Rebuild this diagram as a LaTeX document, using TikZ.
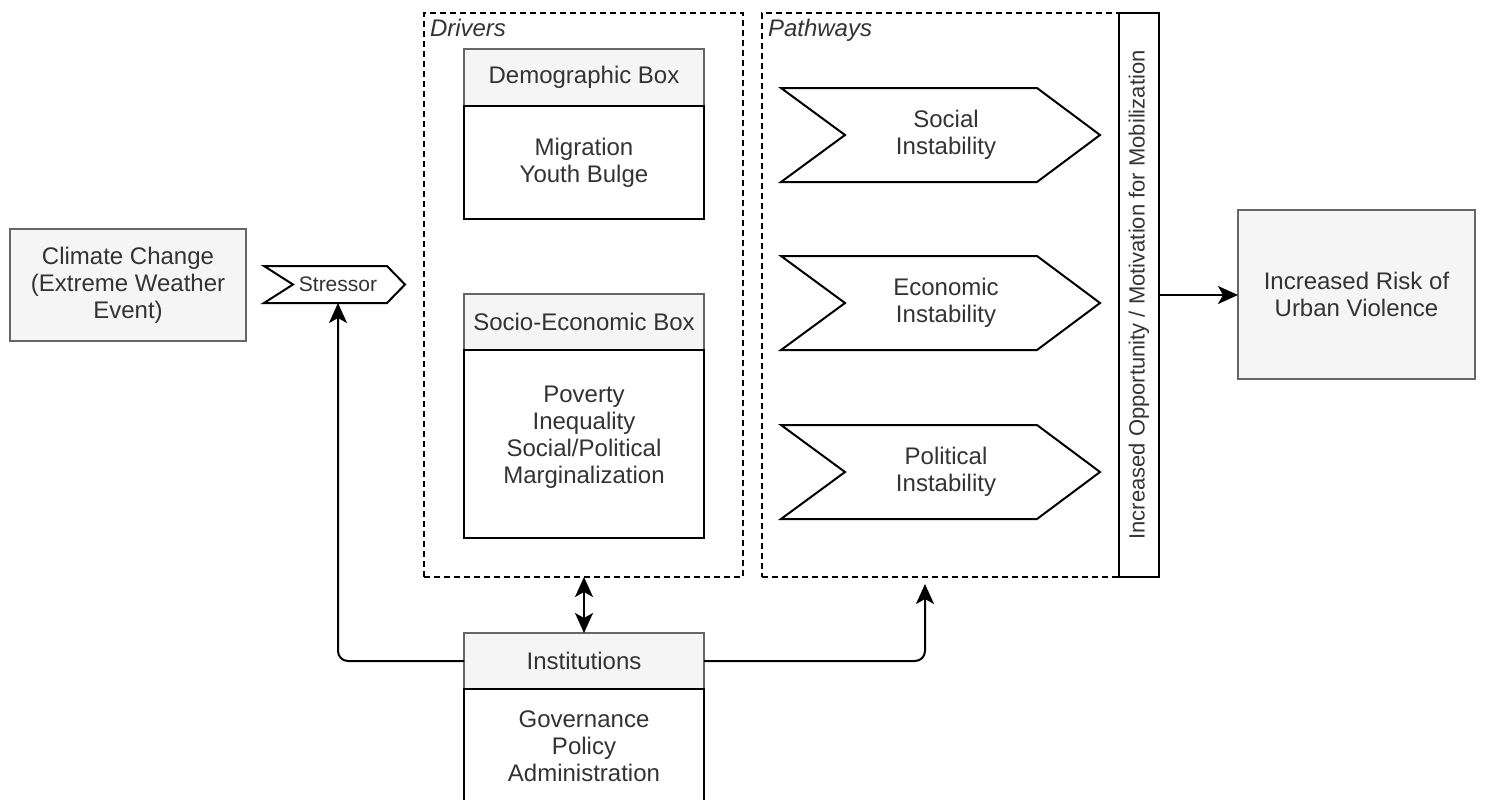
\documentclass[tikz,border=0pt]{standalone}
\usepackage{fontspec}
\setmainfont{Liberation Sans}
\usetikzlibrary{arrows.meta,positioning}
\definecolor{boxfill}{HTML}{F5F5F5}
\definecolor{boxline}{HTML}{666666}
\definecolor{txt}{HTML}{333333}

\begin{document}
\begin{tikzpicture}[x=0.5pt,y=-0.5pt,>={Stealth[length=10pt,width=9pt,inset=2.5pt]},
  line width=1pt,text=txt,font=\fontsize{12}{13.5}\selectfont,
  every node/.style={outer sep=0pt}]
\tikzset{graybox/.style={draw=boxline,fill=boxfill,align=center,inner sep=2pt}}
\tikzset{bodybox/.style={draw=black,fill=white,align=center,inner sep=2pt}}
\tikzset{group/.style={draw=black,dash pattern=on 3pt off 2pt,line width=0.8pt}}
\tikzset{grouplabel/.style={anchor=north west,inner sep=1pt,font=\fontsize{12}{13.5}\selectfont\itshape}}
\tikzset{conn/.style={->,rounded corners=5pt}}
\useasboundingbox (0,0) rectangle (1485,799);
\clip (0,0) rectangle (1485,799);

% stressor side
\node[graybox,minimum width=118pt,minimum height=56pt] (clim) at (128,285) {Climate Change\\(Extreme Weather\\Event)};
\draw (264,266) -- (387,266) -- (405,284.5) -- (387,303) -- (264,303) -- (293,284.5) -- cycle;
\node[inner sep=0pt,minimum height=18.5pt,font=\fontsize{10.5}{12}\selectfont] (stress) at (338,284.5) {Stressor};

% drivers
\node[group,minimum width=159.5pt,minimum height=282pt] (drv) at (583.5,295) {};
\node[grouplabel] (drvlbl) at ([xshift=2pt,yshift=-2pt]drv.north west) {Drivers};
\node[graybox,minimum width=120pt,minimum height=28.5pt] (demohd) at (584,77.5) {Demographic Box};
\node[bodybox,minimum width=120pt,minimum height=56.5pt,below=0pt of demohd] (demo) {Migration\\Youth Bulge};
\node[graybox,minimum width=120pt,minimum height=28pt] (sochd) at (584,322) {Socio-Economic Box};
\node[bodybox,minimum width=120pt,minimum height=94pt,below=0pt of sochd,text depth=9pt] (soc) {Poverty\\Inequality\\Social/Political\\Marginalization};

% pathways
\node[group,minimum width=179pt,minimum height=282pt] (pw) at (941,295) {};
\node[grouplabel] (pwlbl) at ([xshift=2pt,yshift=-2pt]pw.north west) {Pathways};
\foreach \yc/\nm/\lbl in {135/socp/Social,303/ecop/Economic,472/polp/Political}{
  \draw (781,\yc-47) -- (1037,\yc-47) -- (1100,\yc) -- (1037,\yc+47) -- (781,\yc+47) -- (845,\yc) -- cycle;
  \node[align=center] (\nm) at (946,\yc) {\lbl\\Instability};
}
\node[draw=black,fill=white,rotate=90,minimum width=282pt,minimum height=20pt,inner sep=1pt,
  font=\fontsize{11}{13}\selectfont] (mob) at (1139,295) {Increased Opportunity / Motivation for Mobilization};

\node[graybox,minimum width=118.5pt,minimum height=84.5pt] (risk) at (1356.5,294.5) {Increased Risk of\\Urban Violence};

% institutions
\node[graybox,minimum width=120pt,minimum height=28pt] (insthd) at (584,661) {Institutions};
\node[bodybox,minimum width=120pt,minimum height=57pt,below=0pt of insthd] (inst) {Governance\\Policy\\Administration};

\coordinate (pwin) at (925,584);
\draw[<->] (drv.south -| insthd.north) -- (insthd.north);
\draw[conn] (insthd.west) -| (stress.south);
\draw[conn] (insthd.east) -| (pwin);
\draw[->] (mob.south) -- (mob.south -| risk.west);
\end{tikzpicture}
\end{document}
